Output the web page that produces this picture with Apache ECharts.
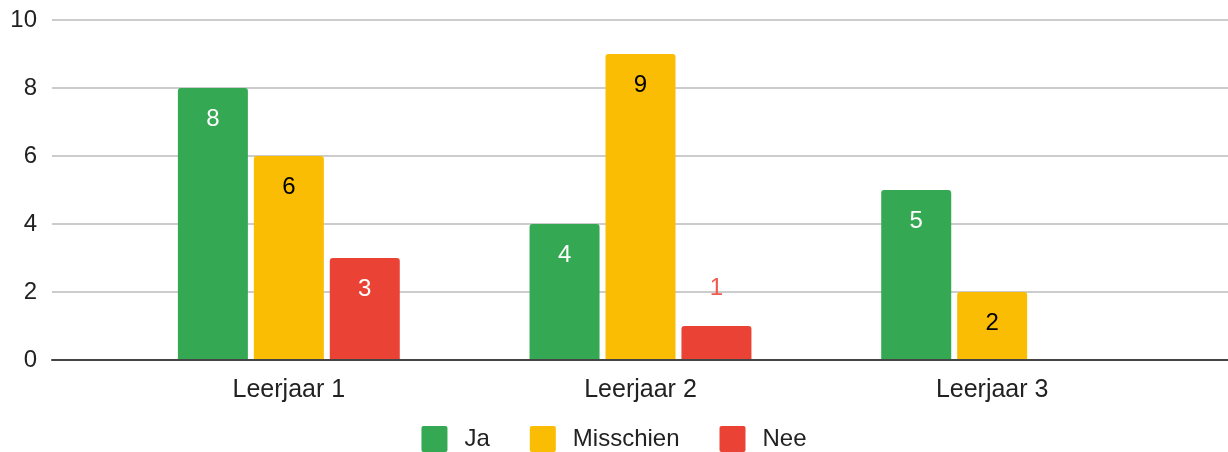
<!DOCTYPE html>
<html>
<head>
<meta charset="utf-8">
<script src="https://cdn.jsdelivr.net/npm/echarts@6/dist/echarts.min.js"></script>
<style>
  html, body { margin: 0; padding: 0; background: #fff; }
  #chart { width: 1228px; height: 452px; }
</style>
</head>
<body>
<div id="chart"></div>
<script>
// data
const categories = ["Leerjaar 1", "Leerjaar 2", "Leerjaar 3"];
const ja = [8, 4, 5];
const misschien = [6, 9, 2];
const nee = [3, 1, null];
const yTicks = [0, 2, 4, 6, 8, 10];

const FONT = "Liberation Sans";
const SIZE = 24;

// label inside the bar top, except when the bar is too short
function labelled(values, color) {
  return values.map(function (v) {
    if (v === null) return v;
    if (v < 1.5) {
      return {
        value: v,
        label: { position: "top", distance: 26, color: "#ee5a4f" }
      };
    }
    return { value: v, label: { color: color } };
  });
}

function barSeries(name, values, color, labelColor) {
  return {
    name: name,
    type: "bar",
    xAxisIndex: 1,
    yAxisIndex: 1,
    barWidth: 70,
    barGap: "8.5%",
    itemStyle: { color: color, borderRadius: [3, 3, 0, 0] },
    label: {
      show: true,
      position: "insideTop",
      distance: 19,
      fontFamily: FONT,
      fontSize: SIZE,
      color: labelColor
    },
    data: labelled(values, labelColor)
  };
}

let myChart = echarts.init(document.getElementById("chart"));
myChart.setOption({
  animation: false,
  textStyle: { fontFamily: FONT },
  grid: [
    // full width: gridlines, y labels and baseline
    { left: 52, right: 0, top: 20, bottom: 92 },
    // bars
    { left: 113, right: 60, top: 20, bottom: 92 }
  ],
  legend: {
    top: 421,
    left: "center",
    itemWidth: 26,
    itemHeight: 26,
    itemGap: 40,
    // square with slightly rounded corners
    icon: "path://M2,0 H24 Q26,0 26,2 V24 Q26,26 24,26 H2 Q0,26 0,24 V2 Q0,0 2,0 Z",
    textStyle: {
      fontFamily: FONT,
      fontSize: SIZE,
      color: "#222",
      padding: [0, 0, 0, 12]
    },
    data: ["Ja", "Misschien", "Nee"]
  },
  xAxis: [
    {
      gridIndex: 0,
      type: "category",
      data: [""],
      axisLine: { show: true, lineStyle: { color: "#444", width: 2 } },
      axisTick: { show: false },
      axisLabel: { show: false },
      z: 10
    },
    {
      gridIndex: 1,
      type: "category",
      data: categories,
      axisLine: { show: false },
      axisTick: { show: false },
      axisLabel: {
        margin: 18,
        fontFamily: FONT,
        fontSize: 25,
        color: "#222"
      }
    }
  ],
  yAxis: [
    {
      gridIndex: 0,
      type: "value",
      min: yTicks[0],
      max: yTicks[yTicks.length - 1],
      interval: 2,
      axisLine: { show: false },
      axisTick: { show: false },
      axisLabel: {
        margin: 15,
        fontFamily: FONT,
        fontSize: SIZE,
        color: "#222"
      },
      splitLine: { lineStyle: { color: "#cccccc", width: 2 } }
    },
    {
      gridIndex: 1,
      type: "value",
      min: yTicks[0],
      max: yTicks[yTicks.length - 1],
      interval: 2,
      show: false,
      splitLine: { show: false }
    }
  ],
  series: [
    barSeries("Ja", ja, "#34a853", "#ffffff"),
    barSeries("Misschien", misschien, "#fbbc04", "#000000"),
    barSeries("Nee", nee, "#ea4335", "#ffffff")
  ]
});
</script>
</body>
</html>
